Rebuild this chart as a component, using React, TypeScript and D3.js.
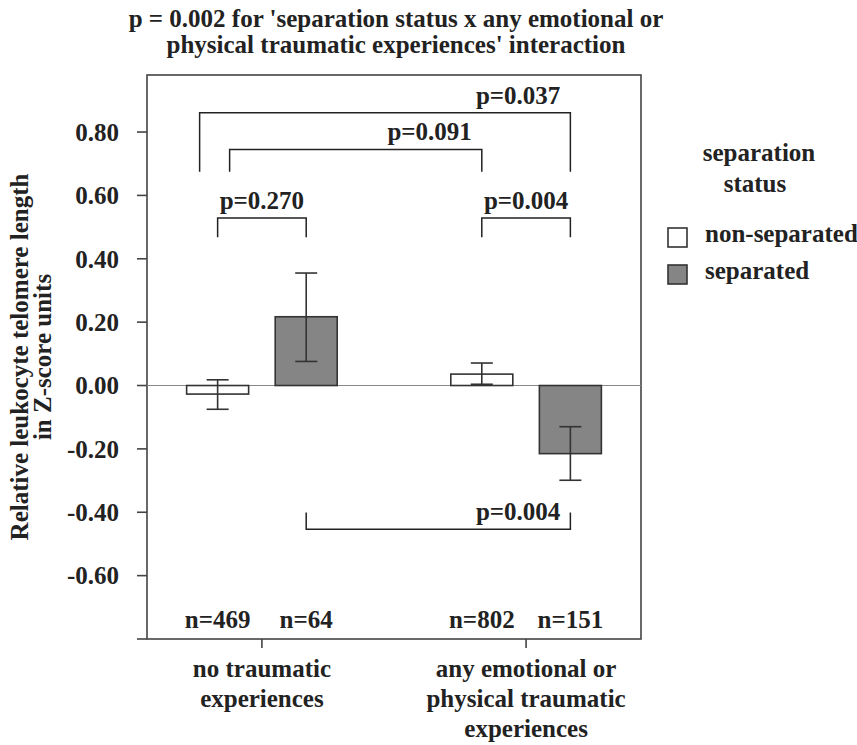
import React from "react";
import * as d3 from "d3";

// values (Z-score units)
const groups = ["no traumatic experiences", "any emotional or physical traumatic experiences"];
const groupLines = [
  ["no traumatic", "experiences"],
  ["any emotional or", "physical traumatic", "experiences"],
];
const series = ["non-separated", "separated"];

const meanNonSeparated = [-0.027, 0.036];
const lowNonSeparated = [-0.075, 0.004];
const highNonSeparated = [0.018, 0.071];
const nNonSeparated = [469, 802];

const meanSeparated = [0.217, -0.215];
const lowSeparated = [0.076, -0.299];
const highSeparated = [0.355, -0.13];
const nSeparated = [64, 151];

const yTicks = [-0.8, -0.6, -0.4, -0.2, 0, 0.2, 0.4, 0.6, 0.8];

// pairwise comparisons: [group, series] -> [group, series]
const brackets = [
  { label: "p=0.037", from: [0, 0], to: [1, 1], level: 0.861, legEnd: 0.675 },
  { label: "p=0.091", from: [0, 0], to: [1, 0], level: 0.745, legEnd: 0.675 },
  { label: "p=0.270", from: [0, 0], to: [0, 1], level: 0.529, legEnd: 0.468 },
  { label: "p=0.004", from: [1, 0], to: [1, 1], level: 0.529, legEnd: 0.468 },
  { label: "p=0.004", from: [0, 1], to: [1, 1], level: -0.454, legEnd: -0.401 },
];

const title = [
  "p = 0.002 for 'separation status x any emotional or",
  "physical traumatic experiences' interaction",
];

const W = 857;
const H = 745;
const left = 147;
const right = 641;
const top = 75;
const bottom = 639;
const font = "'Liberation Serif', 'Times New Roman', serif";
const ink = "#222";
const gray = "#858585";

// small horizontal nudges so the long brackets don't overlap
const legNudge = [[-18, 0], [12, 0], [0, 0], [0, 0], [0, 0]];
const labelAlign = ["end", "end", "middle", "middle", "end"];

export default function App() {
  const y = d3.scaleLinear().domain([-0.8, 0.98]).range([bottom, top]);
  const x0 = d3.scaleBand().domain(groups).range([left, right]).paddingInner(0.43).paddingOuter(0.15);
  const x1 = d3.scaleBand().domain(series).range([0, x0.bandwidth()]).paddingInner(0.3);

  const rows = series.map((s, si) =>
    groups.map((g, gi) => ({
      g,
      s,
      mean: si === 0 ? meanNonSeparated[gi] : meanSeparated[gi],
      lo: si === 0 ? lowNonSeparated[gi] : lowSeparated[gi],
      hi: si === 0 ? highNonSeparated[gi] : highSeparated[gi],
      n: si === 0 ? nNonSeparated[gi] : nSeparated[gi],
    }))
  ).flat();

  const cx = (gi: number, si: number) =>
    (x0(groups[gi]) as number) + (x1(series[si]) as number) + x1.bandwidth() / 2;

  return (
    <svg width={W} height={H} style={{ position: "absolute", left: 0, top: 0, background: "#fff" }}
      fontFamily={font} fontWeight="bold" fontSize={25} fill={ink}>
      {/* title */}
      {title.map((t, i) => (
        <text key={i} x={396} y={27 + i * 26} textAnchor="middle">{t}</text>
      ))}

      {/* frame */}
      <rect x={left} y={top} width={right - left} height={bottom - top} fill="none" stroke="#444" strokeWidth={1.6} />
      {/* zero line */}
      <line x1={left} x2={right} y1={y(0)} y2={y(0)} stroke="#888" strokeWidth={1.2} />

      {/* y axis */}
      {yTicks.map((t) => (
        <g key={t}>
          <line x1={left - 10} x2={left} y1={y(t)} y2={y(t)} stroke="#444" strokeWidth={1.6} />
          {t > -0.8 && (
            <text x={119} y={y(t)} dy="0.35em" textAnchor="end">{d3.format(".2f")(t).replace("−", "-")}</text>
          )}
        </g>
      ))}
      <text transform={`translate(28,${(top + bottom) / 2}) rotate(-90)`} textAnchor="middle">
        Relative leukocyte telomere length
      </text>
      <text transform={`translate(51,${(top + bottom) / 2}) rotate(-90)`} textAnchor="middle">
        in Z-score units
      </text>

      {/* x axis */}
      {groups.map((g, gi) => {
        const c = (x0(g) as number) + x0.bandwidth() / 2;
        return (
          <g key={g}>
            <line x1={c} x2={c} y1={bottom} y2={bottom + 9} stroke="#444" strokeWidth={1.6} />
            {groupLines[gi].map((l, li) => (
              <text key={li} x={c} y={677 + li * 30} textAnchor="middle">{l}</text>
            ))}
          </g>
        );
      })}

      {/* bars */}
      {rows.map((d, i) => {
        const gi = groups.indexOf(d.g);
        const si = series.indexOf(d.s);
        const bx = (x0(d.g) as number) + (x1(d.s) as number);
        const c = cx(gi, si);
        return (
          <g key={i}>
            <rect x={bx} width={x1.bandwidth()} y={y(Math.max(0, d.mean))}
              height={Math.abs(y(d.mean) - y(0))}
              fill={si === 0 ? "#fff" : gray} stroke="#333" strokeWidth={1.6} />
            <line x1={c} x2={c} y1={y(d.lo)} y2={y(d.hi)} stroke="#333" strokeWidth={1.6} />
            <line x1={c - 11} x2={c + 11} y1={y(d.lo)} y2={y(d.lo)} stroke="#333" strokeWidth={1.6} />
            <line x1={c - 11} x2={c + 11} y1={y(d.hi)} y2={y(d.hi)} stroke="#333" strokeWidth={1.6} />
            <text x={c} y={bottom - 11} textAnchor="middle">n={d.n}</text>
          </g>
        );
      })}

      {/* significance brackets */}
      {brackets.map((b, i) => {
        const xa = cx(b.from[0], b.from[1]) + legNudge[i][0];
        const xb = cx(b.to[0], b.to[1]) + legNudge[i][1];
        const yl = y(b.level);
        const ye = y(b.legEnd);
        const align = labelAlign[i];
        const tx = align === "middle" ? (xa + xb) / 2 : xb - 10;
        return (
          <g key={i}>
            <path d={`M${xa},${ye}V${yl}H${xb}V${ye}`} fill="none" stroke="#222" strokeWidth={1.5} />
            <text x={tx} y={yl - 9} textAnchor={align}>{b.label}</text>
          </g>
        );
      })}

      {/* legend */}
      <text x={759} y={161} textAnchor="middle">separation</text>
      <text x={755} y={192} textAnchor="middle">status</text>
      {series.map((s, si) => (
        <g key={s} transform={`translate(668,${228 + si * 37})`}>
          <rect width={19} height={19} fill={si === 0 ? "#fff" : gray} stroke="#333" strokeWidth={1.6} />
          <text x={37} y={14}>{s}</text>
        </g>
      ))}
    </svg>
  );
}
